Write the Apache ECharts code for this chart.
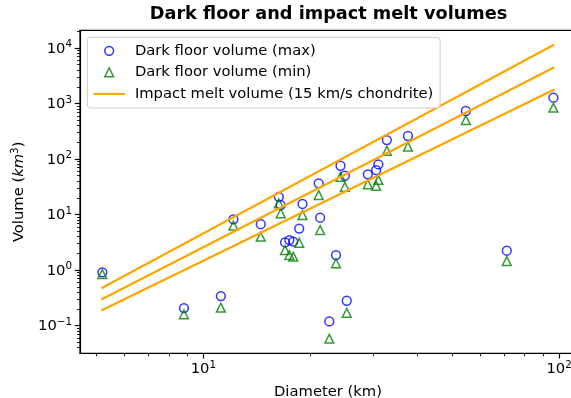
<!DOCTYPE html>
<html><head><meta charset="utf-8">
<script src="https://cdn.jsdelivr.net/npm/echarts@6/dist/echarts.min.js"></script>
<style>html,body{margin:0;padding:0;background:#fff}#c{width:571px;height:398px}</style>
</head><body><div id="c"></div>
<script>
// Crater diameters (km) and dark floor volumes (km^3)
const diameters = [5.2, 8.82, 11.2, 12.15, 14.5, 16.3, 16.5, 16.97, 17.45, 17.9, 18.6, 19.0, 21.1, 21.3, 22.6, 23.6, 24.3, 25.0, 25.3, 29.0, 30.6, 31.05, 32.8, 37.6, 54.7, 71.3, 96.4];
const volMax    = [0.91, 0.207, 0.34, 8.2, 6.7, 20.9, 14.8, 3.15, 3.47, 3.24, 5.6, 15.5, 36.5, 8.8, 0.119, 1.86, 75.7, 50, 0.28, 53, 63, 80, 220, 260, 733, 2.23, 1273];
const volMin    = [0.85, 0.16, 0.21, 6.3, 4.0, 15.9, 10.5, 2.3, 1.86, 1.74, 3.1, 9.8, 22.4, 5.26, 0.058, 1.32, 48, 31.7, 0.17, 35, 33, 42, 141, 167, 503, 1.45, 840];
// Impact melt volume curves (15 km/s chondrite)
const meltD    = [5.2, 96.4];
const meltHigh = [0.48, 11300];
const meltMid  = [0.30, 4420];
const meltLow  = [0.19, 1750];
// Tick positions
const xMajorTicks = [10, 100];
const xMinorTicks = [5, 6, 7, 8, 9, 20, 30, 40, 50, 60, 70, 80, 90];
const yMajorTicks = [0.1, 1, 10, 100, 1000, 10000];
const yMinorTicks = [0.04, 0.05, 0.06, 0.07, 0.08, 0.09, 0.2, 0.3, 0.4, 0.5, 0.6, 0.7, 0.8, 0.9, 2, 3, 4, 5, 6, 7, 8, 9, 20, 30, 40, 50, 60, 70, 80, 90, 200, 300, 400, 500, 600, 700, 800, 900, 2000, 3000, 4000, 5000, 6000, 7000, 8000, 9000, 20000];

const FONT = 'DejaVu Sans';
const FS = 14.75;
const X_MIN = 4.50, X_MAX = 111.6, Y_MIN = 0.0316, Y_MAX = 20800;
const MELT = 'Impact melt volume (15 km/s chondrite)';
const L = Math.log10;

function powLabel(v) {
  const e = Math.round(Math.log10(v));
  const s = e < 0 ? '\u2212' + (-e) : String(e);
  return '{b|10}{s|' + s + '}';
}
const labelRich = {
  b: { fontFamily: FONT, fontSize: FS, color: '#000', padding: [1.5, 0, 0, 0], verticalAlign: 'bottom' },
  s: { fontFamily: FONT, fontSize: 10.3, color: '#000', verticalAlign: 'top' }
};
const axisLineStyle = { color: '#000', width: 1.18 };

function helperX(ticks, len, w) {
  return {
    type: 'value', min: L(X_MIN), max: L(X_MAX), position: 'bottom',
    axisLine: { show: false, onZero: false }, axisLabel: { show: false }, splitLine: { show: false },
    axisTick: { show: true, length: len, customValues: ticks.map(L), lineStyle: { color: '#000', width: w } }
  };
}
function helperY(ticks, len, w) {
  return {
    type: 'value', min: L(Y_MIN), max: L(Y_MAX), position: 'left',
    axisLine: { show: false, onZero: false }, axisLabel: { show: false }, splitLine: { show: false },
    axisTick: { show: true, length: len, customValues: ticks.map(L), lineStyle: { color: '#000', width: w } }
  };
}

const chart = echarts.init(document.getElementById('c'), null, { renderer: 'canvas' });
chart.setOption({
  animation: false,
  backgroundColor: '#fff',
  title: {
    text: 'Dark floor and impact melt volumes',
    left: 328.5, top: 5.8, textAlign: 'center', padding: 0,
    textStyle: { fontFamily: FONT, fontSize: 17.7, fontWeight: 'bold', color: '#000' }
  },
  grid: {
    left: 80, top: 30.35, width: 496, height: 323,
    show: true, borderColor: '#000', borderWidth: 1.18, backgroundColor: 'transparent',
    containLabel: false, outerBoundsMode: 'none'
  },
  legend: {
    left: 87.3, top: 37.3, orient: 'vertical',
    padding: [6, 6.7, 6.6, 6.1], itemGap: 6.55, itemWidth: 29.5, itemHeight: 8.8,
    symbolKeepAspect: true,
    backgroundColor: 'rgba(255,255,255,0.8)', borderColor: '#cccccc', borderWidth: 1, borderRadius: 3,
    textStyle: { fontFamily: FONT, fontSize: FS, color: '#000', padding: [0, 0, 0, 6] },
    selectedMode: false,
    data: [
      { name: 'Dark floor volume (max)', icon: 'circle', itemStyle: { color: 'none', borderColor: '#0000ff', borderWidth: 1.5 } },
      { name: 'Dark floor volume (min)', icon: 'path://M0,0L1,2L-1,2Z', itemStyle: { color: 'none', borderColor: '#008000', borderWidth: 1.5 } },
      { name: MELT, itemStyle: { color: 'transparent', borderColor: 'transparent', borderWidth: 0, opacity: 0 } }
    ]
  },
  xAxis: [{
    type: 'log', logBase: 10, min: X_MIN, max: X_MAX,
    name: 'Diameter (km)', nameLocation: 'middle', nameGap: 31,
    nameTextStyle: { fontFamily: FONT, fontSize: FS, color: '#000' },
    axisLine: { show: true, onZero: false, lineStyle: axisLineStyle },
    axisTick: { show: false },
    axisLabel: { show: true, margin: 7, formatter: powLabel, rich: labelRich, showMinLabel: false, showMaxLabel: false },
    splitLine: { show: false }, minorTick: { show: false }
  },
    helperX(xMajorTicks, 5.15, 1.18),
    helperX(xMinorTicks, 2.94, 0.88)
  ],
  yAxis: [{
    type: 'log', logBase: 10, min: Y_MIN, max: Y_MAX,
    name: 'Volume ({i|km}{s|3})', nameLocation: 'middle', nameGap: 53,
    nameTextStyle: {
      fontFamily: FONT, fontSize: FS, color: '#000',
      rich: {
        i: { fontFamily: FONT, fontSize: FS, fontStyle: 'italic', color: '#000', padding: [1.5, 0, 0, 0], verticalAlign: 'bottom' },
        s: { fontFamily: FONT, fontSize: 10.3, color: '#000', verticalAlign: 'top' }
      }
    },
    axisLine: { show: true, onZero: false, lineStyle: axisLineStyle },
    axisTick: { show: false },
    axisLabel: { show: true, margin: 8, formatter: powLabel, rich: labelRich, showMinLabel: false, showMaxLabel: false },
    splitLine: { show: false }, minorTick: { show: false }
  },
    helperY(yMajorTicks, 5.15, 1.18),
    helperY(yMinorTicks, 2.94, 0.88)
  ],
  series: [
    {
      name: 'Dark floor volume (max)', type: 'scatter', xAxisIndex: 0, yAxisIndex: 0,
      symbol: 'circle', symbolSize: 8.8,
      itemStyle: { color: 'none', borderColor: '#0000ff', borderWidth: 1.5 },
      emphasis: { disabled: true }, z: 2,
      data: diameters.map((d, i) => [d, volMax[i]])
    },
    {
      name: 'Dark floor volume (min)', type: 'scatter', xAxisIndex: 0, yAxisIndex: 0,
      symbol: 'triangle', symbolSize: 8.8,
      itemStyle: { color: 'none', borderColor: '#008000', borderWidth: 1.5 },
      emphasis: { disabled: true }, z: 2,
      data: diameters.map((d, i) => [d, volMin[i]])
    },
    ...[meltHigh, meltMid, meltLow].map(arr => ({
      name: MELT, type: 'line', xAxisIndex: 0, yAxisIndex: 0,
      symbol: 'none', color: '#ffa500',
      lineStyle: { color: '#ffa500', width: 2.2, cap: 'square' },
      emphasis: { disabled: true }, z: 3,
      data: meltD.map((d, i) => [d, arr[i]])
    }))
  ]
});
</script></body></html>
